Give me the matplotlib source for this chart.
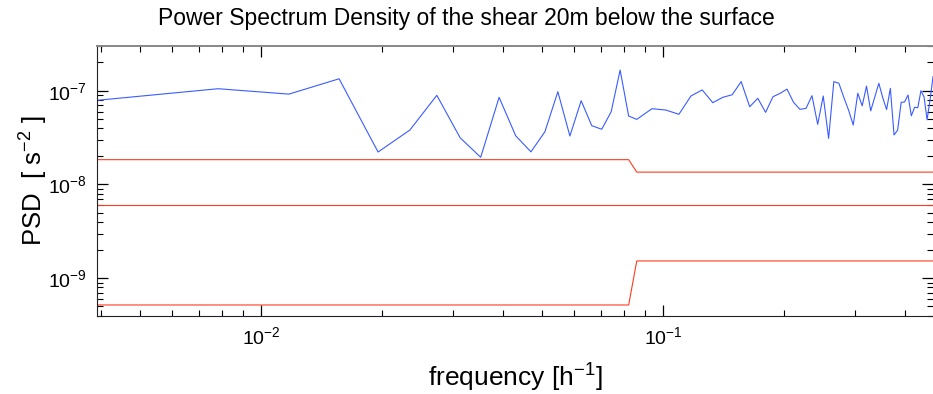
import numpy as np
import matplotlib
matplotlib.use("Agg")
import matplotlib.pyplot as plt
from matplotlib.ticker import LogLocator, NullFormatter

plt.rcParams['font.family'] = ['Liberation Sans', 'DejaVu Sans']
plt.rcParams['mathtext.fontset'] = 'custom'
plt.rcParams['mathtext.rm'] = 'Liberation Sans'
plt.rcParams['mathtext.it'] = 'Liberation Sans:italic'

# frequency bins (units of 1/256 h^-1): single bins up to 22, then pairs
bins = list(range(1, 23)) + list(range(24, 122, 2))
freq = np.array(bins) / 256.0

# PSD of the shear [s^-2]
psd = [7.9e-8, 1.05e-7, 9.2e-8, 1.34e-7, 2.22e-8, 3.81e-8, 8.93e-8, 3.15e-8,
       1.95e-8, 8.5e-8, 3.3e-8, 2.23e-8, 3.65e-8, 9.76e-8, 3.29e-8, 7.82e-8,
       4.24e-8, 3.88e-8, 5.97e-8, 1.66e-7, 5.37e-8, 4.95e-8,
       6.43e-8, 6.22e-8, 5.6e-8, 8.78e-8, 1.02e-7, 7.45e-8, 8.5e-8, 9.06e-8,
       1.25e-7, 6.75e-8, 8.3e-8, 5.88e-8, 8.63e-8, 9.38e-8, 1.04e-7, 7.52e-8,
       6.33e-8, 6.48e-8, 8.85e-8, 4.38e-8, 8.78e-8, 3.1e-8, 1.25e-7, 1.2e-7,
       8.5e-8, 6.2e-8, 4.3e-8, 9.4e-8, 6.9e-8, 1.12e-7, 6.1e-8, 8.6e-8,
       1.2e-7, 8.4e-8, 6.3e-8, 1.06e-7, 3.37e-8, 3.8e-8, 7.5e-8, 7.6e-8,
       9.0e-8, 5.4e-8, 6.65e-8, 6.6e-8, 1.0e-7, 8.6e-8, 4.9e-8, 8.0e-8,
       1.41e-7]

# confidence / reference levels
upper = [1.84e-8 if b <= 21 else 1.355e-8 for b in bins]
middle = [5.97e-9 for b in bins]
lower = [5.19e-10 if b <= 21 else 1.53e-9 for b in bins]

fig = plt.figure(figsize=(9.33, 3.94), dpi=100)
ax = fig.add_axes([0.104, 0.198, 0.896, 0.686])

ax.loglog(freq, psd, color='#3a5cff', lw=0.8)
ax.loglog(freq, upper, color='#ff3b1f', lw=0.8)
ax.loglog(freq, middle, color='#ff3b1f', lw=0.8)
ax.loglog(freq, lower, color='#ff3b1f', lw=0.8)

ax.set_xlim(1 / 256, 120 / 256)
ax.set_ylim(3.96e-10, 3.02e-7)

ax.xaxis.set_minor_locator(LogLocator(base=10, subs=np.arange(2, 10)))
ax.yaxis.set_minor_locator(LogLocator(base=10, subs=np.arange(2, 10)))
ax.xaxis.set_minor_formatter(NullFormatter())
ax.yaxis.set_minor_formatter(NullFormatter())

ax.tick_params(which='both', direction='in', top=True, right=True,
               labelsize=14, pad=7)
ax.tick_params(which='major', length=8, width=0.9)
ax.tick_params(which='minor', length=4, width=0.8)

for side in ['left', 'bottom']:
    ax.spines[side].set_color('#222222')
ax.spines['top'].set_color('#888888')
ax.spines['top'].set_linewidth(1.4)
ax.spines['right'].set_visible(False)

fig.text(0.5, 1 - 18 / 394, 'Power Spectrum Density of the shear 20m below the surface',
         fontsize=16.5, ha='center', va='center')
ax.set_xlabel('frequency [h$^{-1}$]', fontsize=19, labelpad=10)
ax.set_ylabel('PSD  [ s$^{-2}$ ]', fontsize=18.5, labelpad=-1)

fig.savefig('out.png', dpi=100)
